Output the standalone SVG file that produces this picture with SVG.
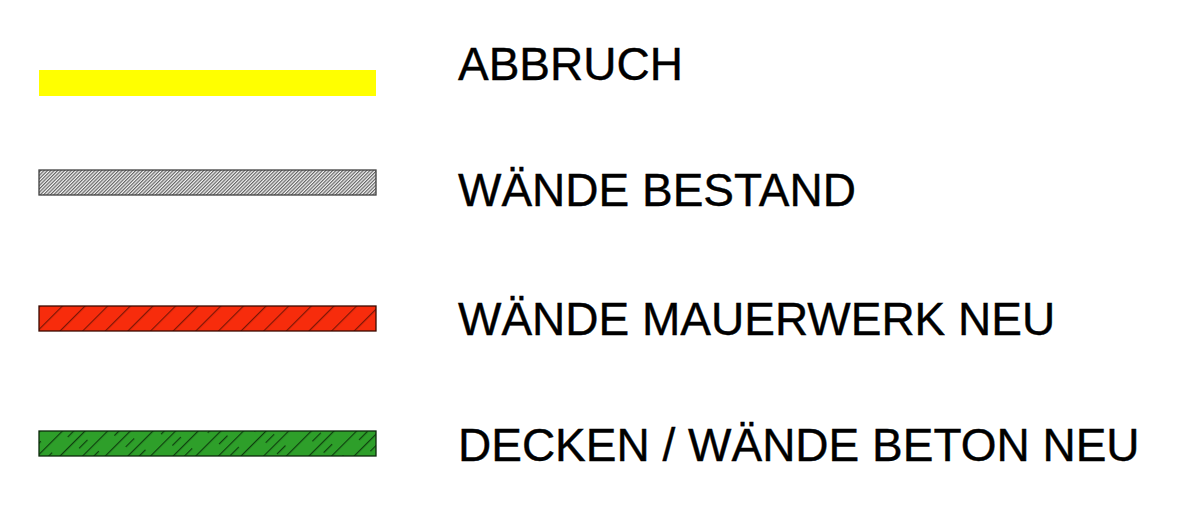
<svg xmlns="http://www.w3.org/2000/svg" width="1200" height="519" viewBox="0 0 1200 519">
  <style>
    .lbl { font-family: "Liberation Sans", Arial, sans-serif; font-size: 46px; fill: #000; stroke: #000; stroke-width: 0.4px; }
    .bar { stroke-width: 1.3; }
  </style>
  <defs>
    <pattern id="hatchGrey" patternUnits="userSpaceOnUse" width="2.4" height="10" patternTransform="rotate(45)">
      <rect width="2.4" height="10" fill="#f4f4f4"/>
      <line x1="0.6" y1="0" x2="0.6" y2="10" stroke="#5a5a5a" stroke-width="1.1"/>
    </pattern>
    <pattern id="hatchRed" patternUnits="userSpaceOnUse" width="16" height="20" patternTransform="translate(39,306) rotate(45)">
      <rect width="16" height="20" fill="#f72c0c"/>
      <line x1="0.6" y1="0" x2="0.6" y2="20" stroke="#7a1606" stroke-width="1.2"/>
    </pattern>
    <pattern id="hatchGreen" patternUnits="userSpaceOnUse" width="16" height="34" patternTransform="translate(39,431) rotate(45)">
      <rect width="16" height="34" fill="#2e9f2a"/>
      <line x1="0.6" y1="0" x2="0.6" y2="34" stroke="#0e3e0e" stroke-width="1.2"/>
      <line x1="8.6" y1="6" x2="8.6" y2="18" stroke="#0e3e0e" stroke-width="1.2"/>
    </pattern>
  </defs>

  <g id="abbruch">
    <rect x="39" y="70" width="337" height="26" fill="#ffff00"/>
    <text class="lbl" x="458" y="80">ABBRUCH</text>
  </g>

  <g id="waende-bestand">
    <rect class="bar" x="39" y="170" width="337" height="25" fill="url(#hatchGrey)" stroke="#404040"/>
    <text class="lbl" x="458" y="206">WÄNDE BESTAND</text>
  </g>

  <g id="waende-mauerwerk-neu">
    <rect class="bar" x="39" y="306" width="337" height="25" fill="url(#hatchRed)" stroke="#3a0a00"/>
    <text class="lbl" x="458" y="335">WÄNDE MAUERWERK NEU</text>
  </g>

  <g id="decken-waende-beton-neu">
    <rect class="bar" x="39" y="431" width="337" height="25" fill="url(#hatchGreen)" stroke="#0c2a0c"/>
    <text class="lbl" x="458" y="461">DECKEN / WÄNDE BETON NEU</text>
  </g>

  <g id="connectors"/>
</svg>
